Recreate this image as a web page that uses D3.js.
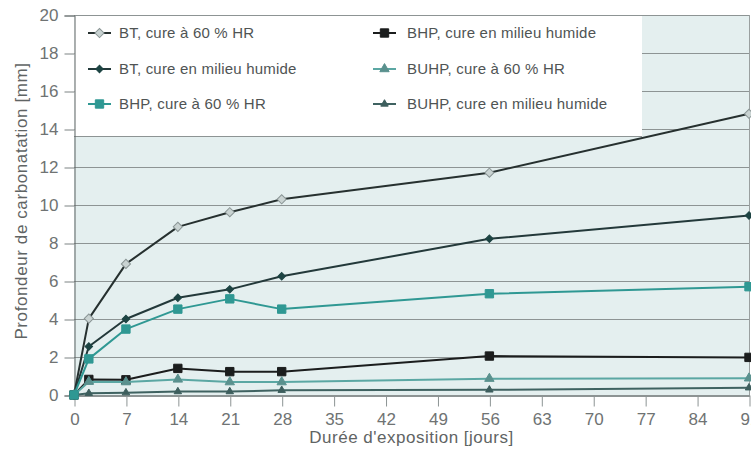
<!DOCTYPE html>
<html>
<head>
<meta charset="utf-8">
<script src="https://cdn.jsdelivr.net/npm/d3@7"></script>
<style>
  html, body { margin: 0; padding: 0; background: #ffffff; }
  svg { display: block; font-family: "Liberation Sans", Arial, Helvetica, sans-serif; }
</style>
</head>
<body>
<svg id="chart" width="751" height="452"></svg>
<script>
// Durée d'exposition (jours)
const days = [0, 2, 7, 14, 21, 28, 56, 91];

// Profondeur de carbonatation (mm) par série
const btSec      = [0, 4.02, 6.9, 8.85, 9.62, 10.3, 11.7, 14.8];
const btHumide   = [0, 2.55, 4.0, 5.12, 5.56, 6.25, 8.22, 9.45];
const bhpSec     = [0, 1.9, 3.47, 4.52, 5.06, 4.52, 5.33, 5.7];
const bhpHumide  = [0, 0.82, 0.8, 1.4, 1.23, 1.23, 2.05, 1.98];
const buhpSec    = [0, 0.7, 0.68, 0.82, 0.68, 0.68, 0.86, 0.88];
const buhpHumide = [0, 0.09, 0.12, 0.18, 0.18, 0.25, 0.27, 0.38];

const seriesNames = [
  "BT, cure à 60 % HR",
  "BT, cure en milieu humide",
  "BHP, cure à 60 % HR",
  "BHP, cure en milieu humide",
  "BUHP, cure à 60 % HR",
  "BUHP, cure en milieu humide"
];

const xTicks = d3.range(0, 92, 7);
const yTicks = d3.range(0, 21, 2);

const series = [
  { name: seriesNames[0], values: btSec,      line: "#26302f", symbol: "diamond", size: 42, fill: "#c9d3d2", stroke: "#8a9595" },
  { name: seriesNames[1], values: btHumide,   line: "#23393a", symbol: "diamond", size: 28, fill: "#1d4443", stroke: "#1d4443" },
  { name: seriesNames[2], values: bhpSec,     line: "#2f9893", symbol: "square",  size: 70, fill: "#2f9893", stroke: "#2f9893" },
  { name: seriesNames[3], values: bhpHumide,  line: "#1b1d1d", symbol: "square",  size: 70, fill: "#1b1d1d", stroke: "#1b1d1d" },
  { name: seriesNames[4], values: buhpSec,    line: "#5ba7a3", symbol: "triangle", size: 38, fill: "#5a918e", stroke: "#5a918e" },
  { name: seriesNames[5], values: buhpHumide, line: "#3f6261", symbol: "triangle", size: 24, fill: "#3d5e5d", stroke: "#3d5e5d" }
];

const svg = d3.select("#chart");
const plotL = 74, plotR = 749, plotT = 15, plotB = 395;

const x = d3.scaleLinear().domain([0, 91]).range([plotL, plotR]);
const y = d3.scaleLinear().domain([0, 20]).range([plotB, plotT]);

// plot background
svg.append("rect")
  .attr("x", plotL).attr("y", plotT)
  .attr("width", plotR - plotL).attr("height", plotB - plotT)
  .attr("fill", "#e4efef");

// horizontal gridlines
svg.append("g").selectAll("line").data(yTicks).join("line")
  .attr("x1", plotL).attr("x2", plotR)
  .attr("y1", d => y(d) + 0.5).attr("y2", d => y(d) + 0.5)
  .attr("stroke", "#8d9494").attr("stroke-width", 1);

// legend panel (white, covering upper-left part of the plot)
const legendRight = 642, legendBottom = 136;
svg.append("rect")
  .attr("x", plotL + 0.5).attr("y", plotT + 1)
  .attr("width", legendRight - plotL - 0.5).attr("height", legendBottom - plotT - 1)
  .attr("fill", "#ffffff");
svg.append("line")
  .attr("x1", plotL).attr("x2", legendRight)
  .attr("y1", legendBottom + 0.5).attr("y2", legendBottom + 0.5)
  .attr("stroke", "#8d9494");

// right border
svg.append("line")
  .attr("x1", plotR + 0.5).attr("x2", plotR + 0.5)
  .attr("y1", plotT).attr("y2", plotB)
  .attr("stroke", "#9aa0a0");

// y axis
const yAxis = d3.axisLeft(y).tickValues(yTicks).tickSize(10).tickPadding(6);
const gy = svg.append("g").attr("transform", `translate(${plotL + 0.5},0.5)`).call(yAxis);
gy.select(".domain").attr("stroke", "#5c6262");
gy.selectAll(".tick line").attr("stroke", "#7d8383");
gy.selectAll(".tick text")
  .attr("fill", "#6f7373").attr("font-size", 17)
  .attr("font-family", "Liberation Sans, Arial, sans-serif");

// x axis
const xAxis = d3.axisBottom(x).tickValues(xTicks).tickSize(11).tickPadding(6).tickSizeOuter(0);
const gx = svg.append("g").attr("transform", `translate(0.5,${plotB + 0.5})`).call(xAxis);
gx.select(".domain").attr("stroke", "#8d9494").attr("stroke-width", 2);
gx.selectAll(".tick line").attr("stroke", "#8d9494");
gx.selectAll(".tick text")
  .attr("fill", "#6f7373").attr("font-size", 17)
  .attr("font-family", "Liberation Sans, Arial, sans-serif");

// axis titles
svg.append("text")
  .attr("x", (plotL + plotR) / 2).attr("y", 443)
  .attr("text-anchor", "middle")
  .attr("font-size", 17).attr("letter-spacing", 0.5).attr("fill", "#5f6464")
  .text("Durée d'exposition [jours]");

svg.append("text")
  .attr("transform", `translate(27,201) rotate(-90)`)
  .attr("text-anchor", "middle")
  .attr("font-size", 17).attr("letter-spacing", 0.6).attr("fill", "#5f6464")
  .text("Profondeur de carbonatation [mm]");

// marker generator
function markerPath(s) {
  if (s.symbol === "triangle") return d3.symbol(d3.symbolTriangle, s.size)();
  return d3.symbol(d3.symbolSquare, s.size)();
}
function markerTransform(s, px, py) {
  return s.symbol === "diamond"
    ? `translate(${px},${py}) rotate(45)`
    : `translate(${px},${py})`;
}

const line = d3.line().x(d => x(d[0])).y(d => y(d[1]));

// stacking order of the series (last one on top)
const drawOrder = [0, 1, 3, 4, 5, 2];
drawOrder.forEach(i => {
  const s = series[i];
  const pts = days.map((d, k) => [d, s.values[k]]);
  const g = svg.append("g");
  g.append("path")
    .attr("d", line(pts))
    .attr("fill", "none")
    .attr("stroke", s.line)
    .attr("stroke-width", 2)
    .attr("stroke-linejoin", "round");
  g.selectAll("path.m").data(pts).join("path")
    .attr("class", "m")
    .attr("d", markerPath(s))
    .attr("transform", d => markerTransform(s, x(d[0]), y(d[1])))
    .attr("fill", s.fill)
    .attr("stroke", s.stroke)
    .attr("stroke-width", 1);
});

// legend entries (two columns, three rows)
const legendCols = [88, 373];
const legendRows = [33, 69, 104];
series.forEach((s, i) => {
  const col = Math.floor(i / 3), row = i % 3;
  const lx = legendCols[col], ly = legendRows[row];
  const g = svg.append("g");
  g.append("line")
    .attr("x1", lx).attr("x2", lx + 23)
    .attr("y1", ly).attr("y2", ly)
    .attr("stroke", s.line).attr("stroke-width", 2);
  g.append("path")
    .attr("d", markerPath(s))
    .attr("transform", markerTransform(s, lx + 11.5, ly))
    .attr("fill", s.fill).attr("stroke", s.stroke).attr("stroke-width", 1);
  g.append("text")
    .attr("x", col === 0 ? 119 : 407)
    .attr("y", ly + 5)
    .attr("font-size", 15)
    .attr("letter-spacing", 0.2)
    .attr("fill", "#4f5454")
    .text(s.name);
});
</script>
</body>
</html>
